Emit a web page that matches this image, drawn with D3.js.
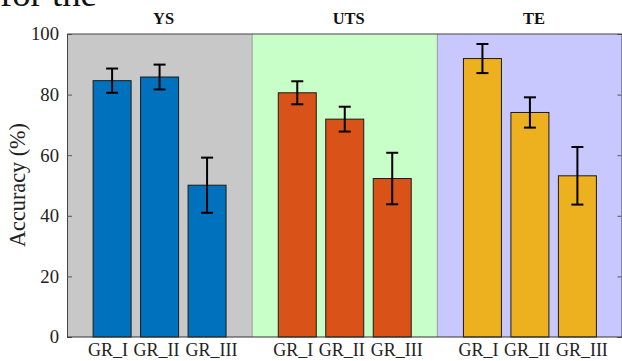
<!DOCTYPE html>
<html><head><meta charset="utf-8">
<script src="https://cdn.jsdelivr.net/npm/d3@7"></script>
<style>body{margin:0;background:#fff}svg{display:block}</style>
</head><body>
<script>
const panels = ["YS", "UTS", "TE"];
const groups = ["GR_I", "GR_II", "GR_III"];
const ysMean = [84.6, 85.8, 50.1];
const ysErr = [4.0, 4.1, 9.1];
const utsMean = [80.6, 71.9, 52.3];
const utsErr = [3.8, 4.1, 8.5];
const teMean = [91.9, 74.1, 53.2];
const teErr = [4.8, 5.0, 9.5];
const yTicks = [0, 20, 40, 60, 80, 100];
const barColors = ["#0072BD", "#D95319", "#EDB120"];
const bgColors = ["#C8C8C8", "#C8FFC8", "#C8C8FF"];

const means = [ysMean, utsMean, teMean];
const errs = [ysErr, utsErr, teErr];

const W = 622, H = 361;
const m = {left: 67, right: 0, top: 34, bottom: 24};
const svg = d3.select("body").append("svg").attr("width", W).attr("height", H);
const font = "'Liberation Serif', 'Times New Roman', serif";

function fit(sel, target) {
  sel.each(function() {
    const w = this.getComputedTextLength();
    const fs = parseFloat(d3.select(this).attr("font-size"));
    if (w > 0) d3.select(this).attr("font-size", fs * target / w);
  });
}

const x = d3.scaleBand().domain(panels).range([m.left, W - m.right + 0.5]).padding(0);
const y = d3.scaleLinear().domain([0, 100]).range([H - m.bottom, m.top]);

svg.selectAll("rect.bg").data(panels).join("rect")
  .attr("x", d => x(d)).attr("y", y(100))
  .attr("width", x.bandwidth()).attr("height", y(0) - y(100))
  .attr("fill", (d, i) => bgColors[i]);

svg.selectAll("line.sep").data(panels.slice(1)).join("line")
  .attr("x1", d => x(d)).attr("x2", d => x(d))
  .attr("y1", y(100)).attr("y2", y(0))
  .attr("stroke", "#888").attr("stroke-width", 0.8);

const inner = d3.scaleBand().domain(groups).range([0, x.bandwidth()]).paddingInner(0.2).paddingOuter(0.55);
const labelShift = [-4, -3, 4.5];
const titleW = [21, 32, 22];
panels.forEach((p, pi) => {
  const g = svg.append("g").attr("transform", `translate(${x(p)},0)`);
  const data = groups.map((gr, i) => ({gr, v: means[pi][i], e: errs[pi][i]}));
  g.selectAll("rect").data(data).join("rect")
    .attr("x", d => inner(d.gr)).attr("y", d => y(d.v))
    .attr("width", inner.bandwidth()).attr("height", d => y(0) - y(d.v))
    .attr("fill", barColors[pi]).attr("stroke", "#1a1a1a").attr("stroke-width", 1);
  const eb = g.selectAll("g.eb").data(data).join("g");
  const cx = d => inner(d.gr) + inner.bandwidth() / 2;
  eb.append("line").attr("x1", cx).attr("x2", cx)
    .attr("y1", d => y(d.v + d.e)).attr("y2", d => y(d.v - d.e))
    .attr("stroke", "#000").attr("stroke-width", 2);
  [1, -1].forEach(s => {
    eb.append("line").attr("x1", d => cx(d) - 6).attr("x2", d => cx(d) + 6)
      .attr("y1", d => y(d.v + s * d.e)).attr("y2", d => y(d.v + s * d.e))
      .attr("stroke", "#000").attr("stroke-width", 2);
  });
  g.selectAll("text.xl").data(groups).join("text").attr("class", "xl")
    .attr("x", (d, i) => inner(d) + inner.bandwidth() / 2 + labelShift[i]).attr("y", H - 5.5)
    .attr("text-anchor", "middle").attr("font-family", font).attr("font-size", 18)
    .attr("fill", "#222").text(d => d);
  g.append("text").attr("x", x.bandwidth() / 2 + 4).attr("y", 24)
    .attr("text-anchor", "middle").attr("font-family", font).attr("font-size", 16)
    .attr("font-weight", "bold").attr("fill", "#111").text(p)
    .call(s => fit(s, titleW[pi]));
});

const yAxis = d3.axisLeft(y).tickValues(yTicks).tickSize(-5).tickPadding(8);
const ya = svg.append("g").attr("transform", `translate(${m.left},0)`).call(yAxis);
ya.selectAll("text").attr("font-family", font).attr("font-size", 18).attr("fill", "#222");
ya.selectAll(".tick").filter(d => d === 100).select("text").call(s => fit(s, 28));
const tfs = ya.selectAll(".tick").filter(d => d === 100).select("text").attr("font-size");
ya.selectAll("text").attr("font-size", tfs);
ya.selectAll("line").attr("stroke", "#555");
ya.select(".domain").attr("stroke", "#444");
const yAxisR = d3.axisRight(y).tickValues(yTicks).tickSize(-4).tickFormat("");
const yr = svg.append("g").attr("transform", `translate(${W - 0.5},0)`).call(yAxisR);
yr.selectAll("line").attr("stroke", "#555");
yr.select(".domain").attr("stroke", "#444");
svg.append("line").attr("x1", m.left).attr("x2", W).attr("y1", y(100)).attr("y2", y(100))
  .attr("stroke", "#444").attr("stroke-width", 1);
svg.append("line").attr("x1", m.left).attr("x2", W).attr("y1", y(0)).attr("y2", y(0))
  .attr("stroke", "#333").attr("stroke-width", 1.2);

svg.append("text").attr("transform", `translate(25,185) rotate(-90)`)
  .attr("text-anchor", "middle").attr("font-family", font).attr("font-size", 20)
  .attr("fill", "#222").text("Accuracy (%)")
  .call(s => fit(s, 124));

svg.append("text").attr("x", 0).attr("y", 6).attr("font-family", font).attr("font-size", 30)
  .attr("fill", "#111").text("for the")
  .call(s => fit(s, 97));
</script>
</body></html>
